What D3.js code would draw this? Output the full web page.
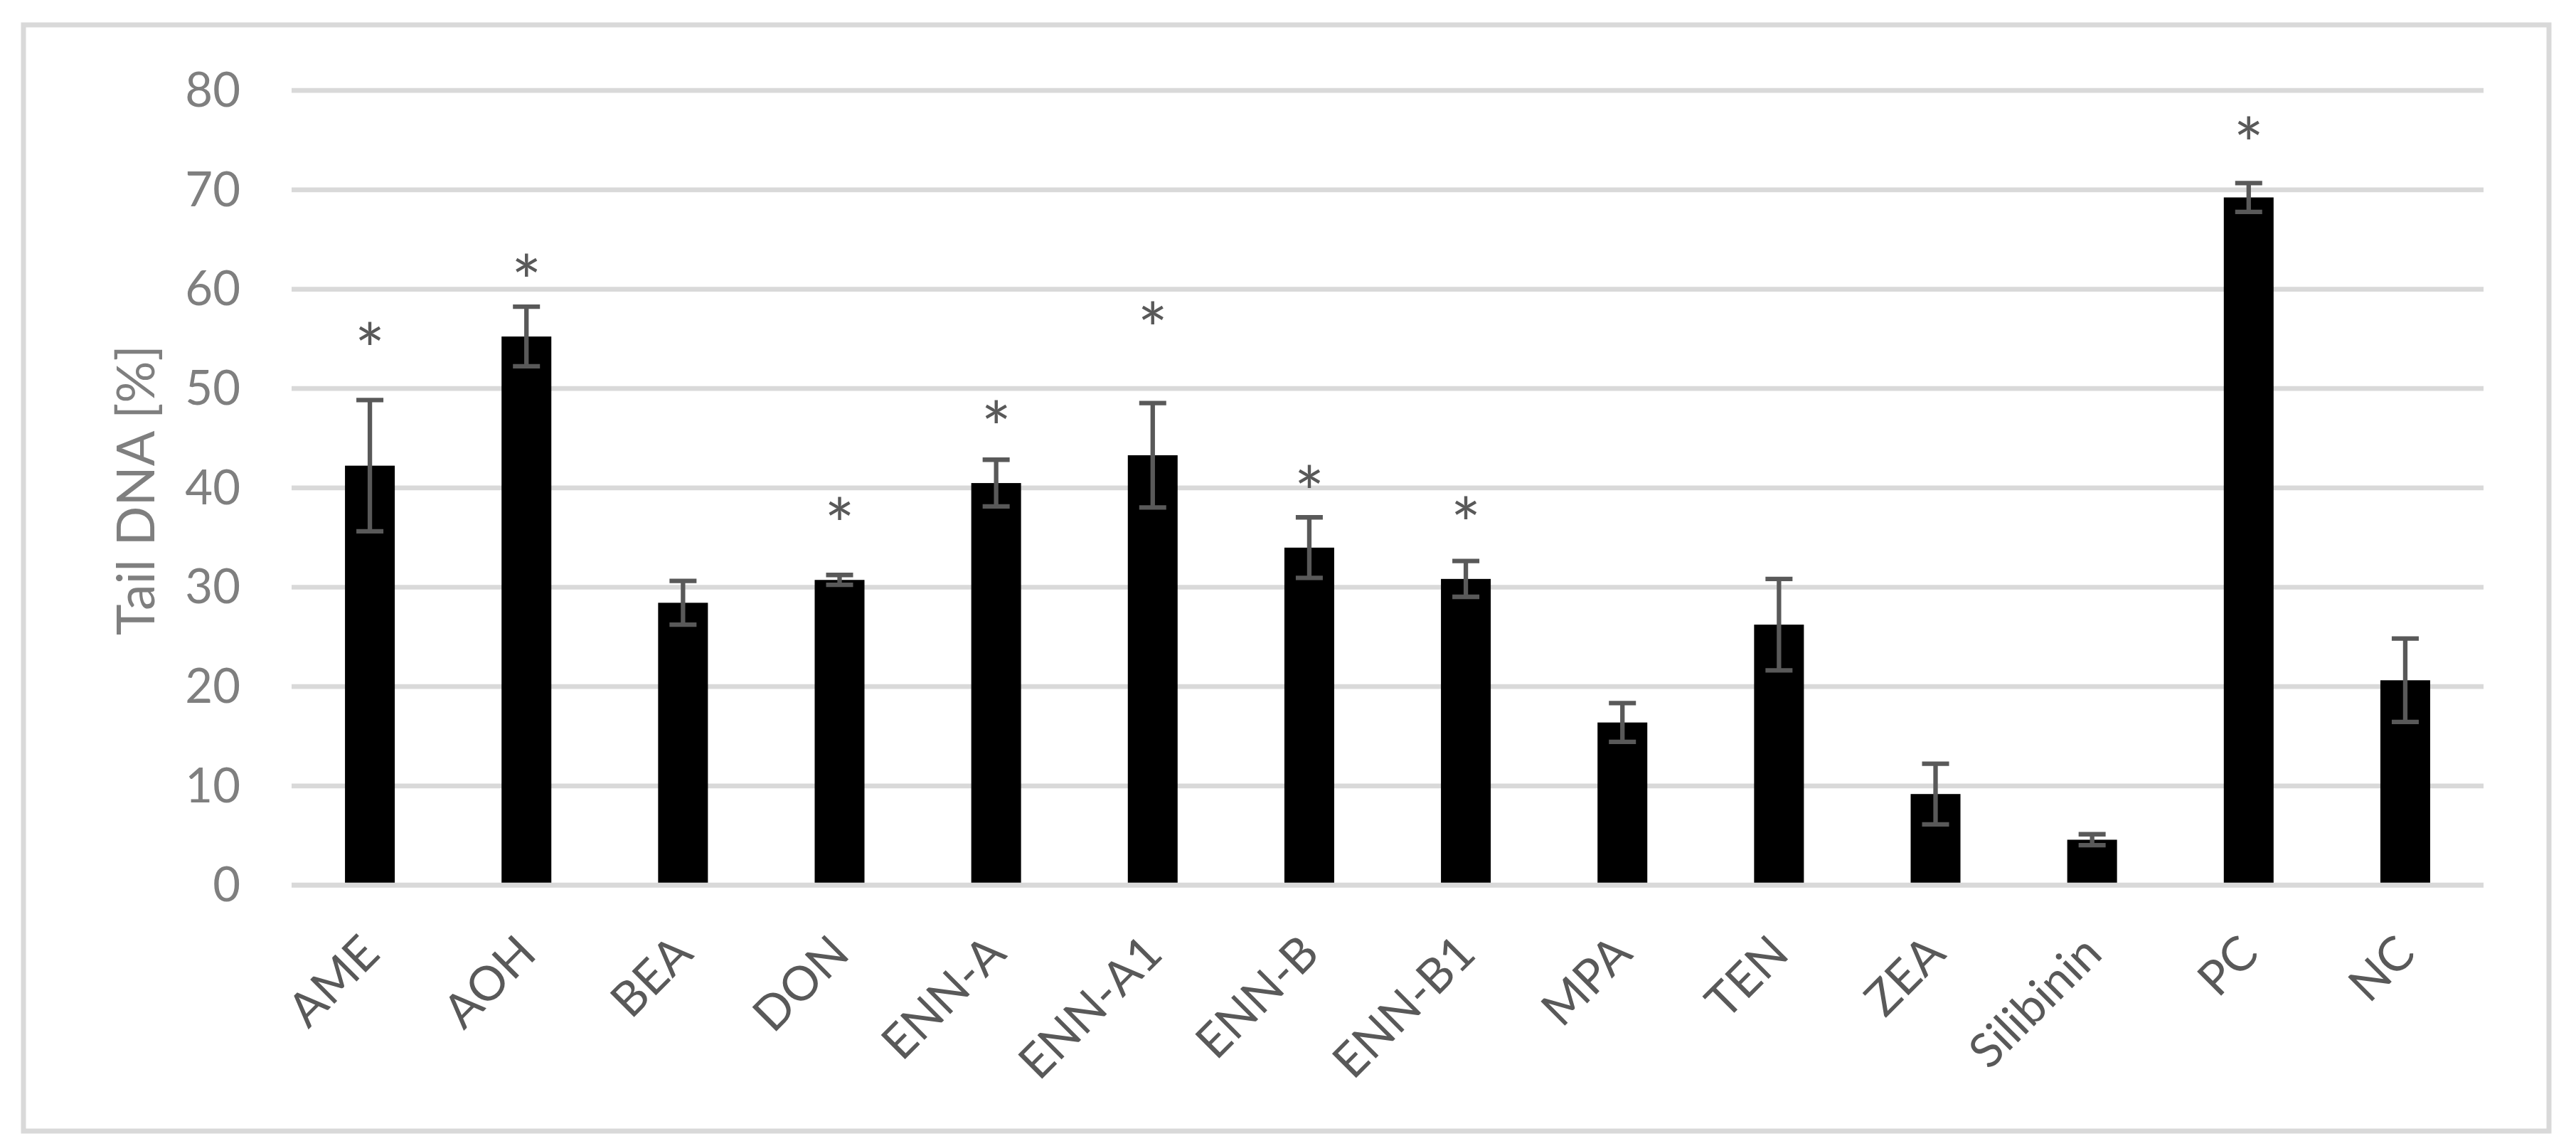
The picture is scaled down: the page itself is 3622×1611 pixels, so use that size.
<!DOCTYPE html>
<html><head><meta charset="utf-8">
<script src="https://cdn.jsdelivr.net/npm/d3@7"></script>
<style>html,body{margin:0;padding:0;background:#fff;} svg{display:block;}</style>
</head><body>
<script>
// ---- data ----
const categories = ["AME","AOH","BEA","DON","ENN-A","ENN-A1","ENN-B","ENN-B1","MPA","TEN","ZEA","Silibinin","PC","NC"];
const values = [42.2, 55.2, 28.4, 30.7, 40.45, 43.25, 33.95, 30.8, 16.35, 26.2, 9.15, 4.55, 69.2, 20.6];
const errors = [6.6, 3.0, 2.2, 0.5, 2.35, 5.25, 3.05, 1.8, 1.95, 4.6, 3.05, 0.55, 1.45, 4.2];
const sigLevels = [55.2, 62.05, null, 37.6, 47.3, 57.3, 40.8, 37.65, null, null, null, null, 75.9, null];
const yTicks = [0, 10, 20, 30, 40, 50, 60, 70, 80];
const yTitle = "Tail DNA [%]";

const W = 3622, H = 1611;
const FONT = "Lato, 'Liberation Sans', sans-serif";
const svg = d3.select("body").append("svg").attr("width", W).attr("height", H);

// chart border
svg.append("rect").attr("x", 33).attr("y", 35).attr("width", 3551).attr("height", 1555)
  .attr("fill", "#ffffff").attr("stroke", "#d9d9d9").attr("stroke-width", 7);

const x = d3.scaleBand().domain(categories).range([410, 3492]).paddingInner(0.682).paddingOuter(0.341);
const y = d3.scaleLinear().domain([0, 80]).range([1244, 126.7]);

// gridlines + y tick labels
const yAxis = svg.append("g").attr("transform", "translate(410,0)")
  .call(d3.axisLeft(y).tickValues(yTicks).tickSize(-(3492 - 410)).tickPadding(72).tickFormat(d3.format("d")));
yAxis.select(".domain").remove();
yAxis.selectAll(".tick line").attr("stroke", "#d9d9d9").attr("stroke-width", 6.7);
yAxis.selectAll(".tick text").attr("fill", "#7f7f7f").attr("font-family", FONT).attr("font-size", 67).attr("dy", "0.34em");

// bars
svg.append("g").selectAll("rect").data(categories).join("rect")
  .attr("x", d => x(d)).attr("width", x.bandwidth())
  .attr("y", (d, i) => y(values[i])).attr("height", (d, i) => y(0) - y(values[i]))
  .attr("fill", "#000000");

// horizontal axis line on top
svg.append("line").attr("x1", 410).attr("x2", 3492).attr("y1", y(0)).attr("y2", y(0))
  .attr("stroke", "#d9d9d9").attr("stroke-width", 6.7);

// error bars
const eb = svg.append("g").attr("stroke", "#595959").attr("stroke-width", 6.3).attr("fill", "none");
categories.forEach((c, i) => {
  const cx = x(c) + x.bandwidth() / 2;
  const hi = y(values[i] + errors[i]), lo = y(values[i] - errors[i]);
  eb.append("line").attr("x1", cx).attr("x2", cx).attr("y1", hi).attr("y2", lo);
  eb.append("line").attr("x1", cx - 19).attr("x2", cx + 19).attr("y1", hi).attr("y2", hi);
  eb.append("line").attr("x1", cx - 19).attr("x2", cx + 19).attr("y1", lo).attr("y2", lo);
});

// significance asterisks
svg.append("g").selectAll("text").data(categories.filter((c, i) => sigLevels[i] !== null)).join("text")
  .attr("x", d => x(d) + x.bandwidth() / 2)
  .attr("y", d => y(sigLevels[categories.indexOf(d)]) + 56)
  .attr("text-anchor", "middle").attr("font-family", FONT).attr("font-size", 100).attr("fill", "#595959")
  .text("*");

// x axis labels
const xAxis = svg.append("g").attr("transform", `translate(0,${y(0)})`)
  .call(d3.axisBottom(x).tickSize(0));
xAxis.select(".domain").remove();
xAxis.selectAll(".tick text")
  .attr("x", 0).attr("y", 0).attr("dy", "0.358em")
  .attr("transform", "translate(0,83) rotate(-45)")
  .attr("text-anchor", "end").attr("fill", "#595959")
  .attr("font-family", FONT).attr("font-size", 67);

// y title
svg.append("text").attr("transform", "translate(216.7,689) rotate(-90)")
  .attr("text-anchor", "middle").attr("font-family", FONT).attr("font-size", 73.6).attr("fill", "#7f7f7f")
  .text(yTitle);
</script>
</body></html>
